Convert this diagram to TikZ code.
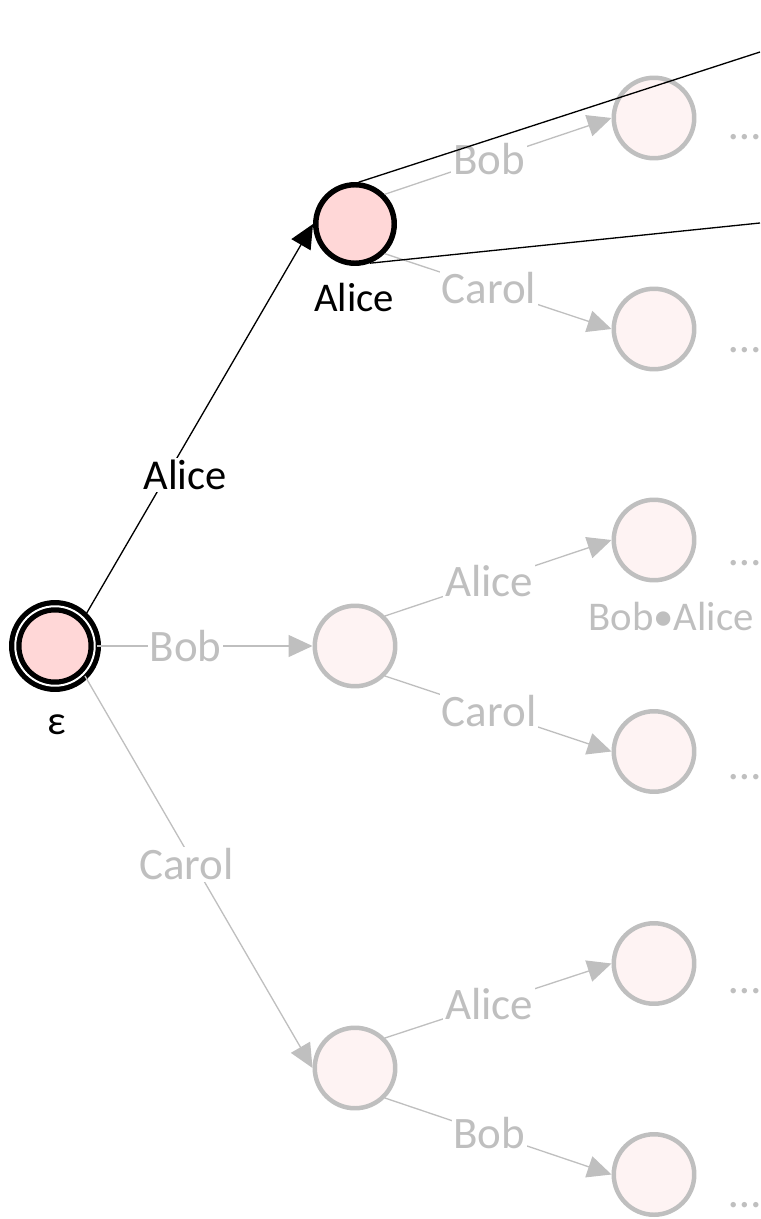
\documentclass[tikz,border=0pt]{standalone}
\usepackage{fontspec}
\setmainfont{Carlito}
\usetikzlibrary{arrows.meta}

\definecolor{pinkfill}{HTML}{FFD7D7}
\definecolor{palefill}{HTML}{FEF3F3}
\definecolor{greyline}{HTML}{BFBFBF}

\begin{document}
\begin{tikzpicture}[
        x=0.02cm, y=-0.02cm,
        X/.style={circle, inner sep=0pt},
        R/.style={X, minimum size=1.59cm, draw=black, line width=2.98pt,
            double=white, double distance=1.13pt, fill=pinkfill},
        A/.style={X, minimum size=1.57cm, draw=black, line width=3.1pt, fill=pinkfill},
        F/.style={X, minimum size=1.61cm, draw=greyline, line width=2.55pt, fill=palefill},
        tip/.style={-{Triangle[length=0.48cm, width=0.44cm]}},
        K/.style={draw=black, line width=0.75pt, tip},
        G/.style={draw=greyline, line width=0.75pt, tip},
        L/.style={fill=white, inner sep=1pt, text=greyline,
            font=\fontsize{25.6}{30}\selectfont},
        N/.style={inner sep=0pt, font=\fontsize{23.2}{28}\selectfont}
    ]

    \useasboundingbox (0,0) rectangle (760,1219);

    % states
    \node[R] (root) at (55,646) {};
    \node[A] (alice) at (355,224) {};
    \node[F] (bob) at (355,646) {};
    \node[F] (carol) at (355,1068) {};

    \foreach \n/\y/\d in {ab/118/137, ac/329/350, ba/540/563,
        bc/751.5/777, ca/963.5/991, cb/1174.5/1205}{
        \node[F] (\n) at (654,\y) {};
        \node[L, text=greyline] (dots-\n) at (745,\d) {…};
    }

    \node[N] (eps) at (57,725) {ε};
    \node[N] (alice-name) at (354,297) {Alice};
    \node[N, text=greyline] (ba-name) at (671,616) {Bob•Alice};

    % first step
    \draw[K] (root.north east) -- node[L, text=black, pos=0.36, xshift=0.36cm,
        font=\fontsize{24.2}{29}\selectfont] {Alice} (alice.west);
    \draw[G] (root) -- node[L, pos=0.41] {Bob} (bob);
    \draw[G] (root.south east) -- node[L, pos=0.48, xshift=-0.15cm] {Carol} (carol.west);

    % second step
    \foreach \p/\a/\b/\la/\lb in {alice/ab/ac/Bob/Carol, bob/ba/bc/Alice/Carol,
        carol/ca/cb/Alice/Bob}{
        \draw[G] (\p.north east) -- node[L, pos=0.46] {\la} (\a.west);
        \draw[G] (\p.south east) -- node[L, pos=0.46] {\lb} (\b.west);
    }

    % zoom lines
    \coordinate (zt) at (760,52);
    \coordinate (zb) at (760,223);
    \draw[black, line width=0.75pt] (alice.85) -- (zt);
    \draw[black, line width=0.75pt] (alice.-69) -- (zb);
\end{tikzpicture}
\end{document}
